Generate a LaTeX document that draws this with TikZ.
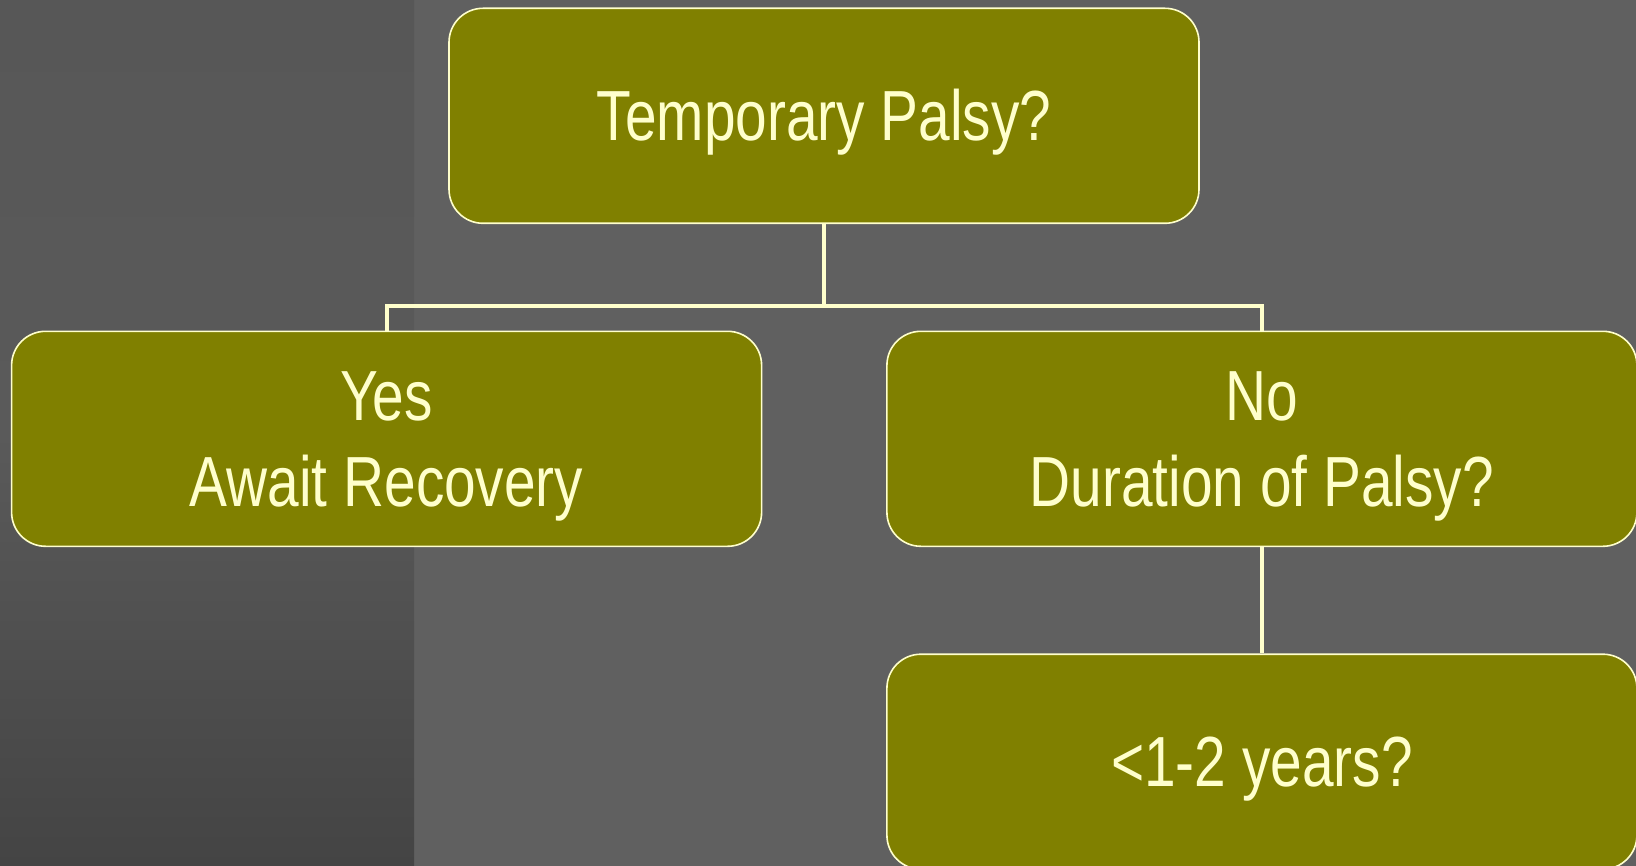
\documentclass[tikz,border=0pt]{standalone}
\usepackage{fontspec}
\setmainfont{Liberation Sans}[FakeStretch=0.8]
\newcommand\mystrut{\rule[-0.21em]{0pt}{1.11em}}
\definecolor{bgmain}{HTML}{606060}
\definecolor{paneltop}{HTML}{575757}
\definecolor{panelmid}{HTML}{5A5A5A}
\definecolor{panelbot}{HTML}{444444}
\definecolor{olivebox}{HTML}{808000}
\definecolor{cream}{HTML}{FFFFCC}
\begin{document}
\begin{tikzpicture}[x=0.5pt,y=-0.5pt,
  box/.style={draw=cream, line width=0.8pt, fill=olivebox, rounded corners=17pt,
    minimum width=375pt, minimum height=107.5pt, inner sep=0pt, align=center,
    text=cream, font=\fontsize{35.5}{43}\selectfont},
  conn/.style={draw=cream, line width=2pt}]
\useasboundingbox (0,0) rectangle (1636,866);
\clip (0,0) rectangle (1636,866);
\fill[bgmain] (0,0) rectangle (1636,866);
\shade[top color=paneltop, bottom color=panelbot, middle color=panelmid] (0,0) rectangle (414,866);
\coordinate (split) at (824,306);
\node[box] (top) at (824,115.8) {\mystrut Temporary Palsy?};
\node[box] (yes) at (386.6,438.8) {\mystrut Yes\\\mystrut Await Recovery};
\node[box] (no) at (1261.9,438.8) {\mystrut No\\\mystrut Duration of Palsy?};
\node[box] (bot) at (1261.9,761.7) {\mystrut <1-2 years?};
\draw[conn] (top.south) -- (split);
\draw[conn] (yes.north) |- (split) -| (no.north);
\draw[conn] (no.south) -- (bot.north);
\end{tikzpicture}
\end{document}
